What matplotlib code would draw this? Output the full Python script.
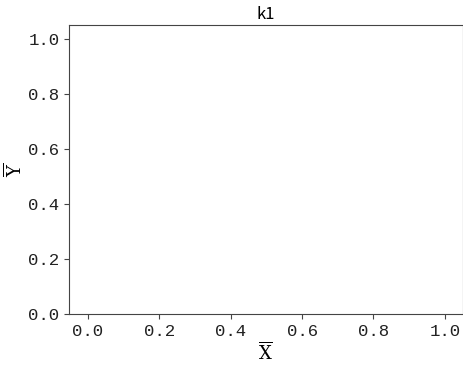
import matplotlib
matplotlib.use("Agg")
import matplotlib.pyplot as plt

plt.rcParams['font.family'] = ['Noto Sans CJK SC', 'DejaVu Sans']
plt.rcParams['axes.unicode_minus'] = False
plt.rcParams['mathtext.fontset'] = 'dejavuserif'

title = "k1"
xlabel = r"$\overline{\mathrm{X}}$"
ylabel = r"$\overline{\mathrm{Y}}$"
xticks = [0.0, 0.2, 0.4, 0.6, 0.8, 1.0]
yticks = [0.0, 0.2, 0.4, 0.6, 0.8, 1.0]

fig = plt.figure(figsize=(4.64, 3.67), dpi=100)
ax = fig.add_axes([0.149, 0.144, 0.848, 0.788])
ax.set_xlim(-0.053, 1.05)
ax.set_ylim(0.0, 1.05)
ax.set_xticks(xticks)
ax.set_yticks(yticks)
tick_font = dict(family=['Liberation Mono', 'DejaVu Sans Mono'], fontsize=12.5)
ax.set_xticklabels([f"{v:.1f}" for v in xticks], **tick_font)
ax.set_yticklabels([f"{v:.1f}" for v in yticks], **tick_font)
ax.set_title(title, fontsize=12, pad=4)
ax.set_xlabel(xlabel, fontsize=13, labelpad=2)
ax.set_ylabel(ylabel, fontsize=13, labelpad=2)
for s in ax.spines.values():
    s.set_color('#444444')
ax.tick_params(colors='#444444', labelcolor='#222222')
fig.savefig("out.png", dpi=100)
